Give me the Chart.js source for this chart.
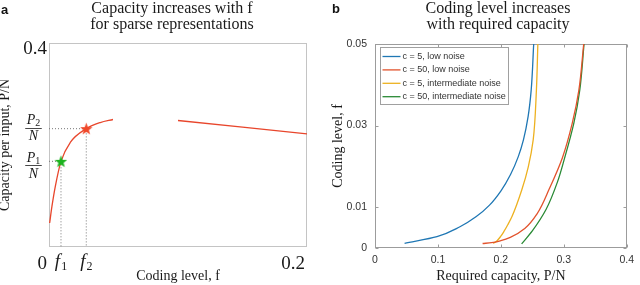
<!DOCTYPE html>
<html>
<head>
<meta charset="utf-8">
<script src="https://cdn.jsdelivr.net/npm/chart.js@4.4.0/dist/chart.umd.min.js"></script>
<style>
html, body { margin: 0; padding: 0; background: #fff; }
#wrap { position: relative; width: 640px; height: 285px; }
.panel { position: absolute; top: 0; width: 320px; height: 285px; }
</style>
</head>
<body>
<div id="wrap">
    <div class="panel" style="left:0"><canvas id="chartA"></canvas></div>
    <div class="panel" style="left:320px"><canvas id="chartB"></canvas></div>
</div>
<script>
// ---- panel a: capacity per input vs coding level ----
const capFLeft = [0.0005, 0.0023, 0.0049, 0.0093, 0.0165, 0.0289, 0.0397, 0.0496];
const capPNLeft = [0.047, 0.080, 0.119, 0.168, 0.205, 0.232, 0.244, 0.250];
const capFRight = [0.1, 0.15, 0.2];
const capPNRight = [0.248, 0.235, 0.222];
const markF = [0.0093, 0.0289];
const markPN = [0.168, 0.232];
const ticksAX = [0, 0.2];
const tickLabelsAX = ['0', '0.2'];
const ticksAY = [0.4];
const tickLabelsAY = ['0.4'];

// ---- panel b: coding level vs required capacity ----
const legendLabels = ['c = 5, low noise', 'c = 50, low noise', 'c = 5, intermediate noise', 'c = 50, intermediate noise'];
const pnLow5 = [0.047, 0.0985, 0.135, 0.161, 0.182, 0.2002, 0.2154, 0.2277, 0.2359, 0.2433, 0.2482, 0.2522];
const fLow5 = [0.00115, 0.0028, 0.0052, 0.0077, 0.0105, 0.014, 0.018, 0.0224, 0.0265, 0.0322, 0.0387, 0.05];
const pnLow50 = [0.171, 0.185, 0.2, 0.215, 0.238, 0.258, 0.277, 0.298, 0.3135, 0.324, 0.3317];
const fLow50 = [0.0011, 0.0013, 0.0018, 0.0026, 0.0048, 0.0085, 0.0145, 0.0222, 0.0306, 0.0387, 0.05];
const pnMid5 = [0.188, 0.194, 0.2, 0.2047, 0.211, 0.2177, 0.2332, 0.2436, 0.2514, 0.2565, 0.2588];
const fMid5 = [0.0011, 0.0018, 0.0029, 0.0040, 0.0057, 0.0077, 0.0142, 0.0199, 0.0265, 0.0387, 0.05];
const pnMid50 = [0.233, 0.25, 0.272, 0.29, 0.3005, 0.316, 0.3254, 0.3322];
const fMid50 = [0.001, 0.0042, 0.0095, 0.0162, 0.0216, 0.0306, 0.0387, 0.05];
const ticksBX = [0, 0.1, 0.2, 0.3, 0.4];
const ticksBY = [0, 0.01, 0.03, 0.05];

const SERIF = '"Liberation Serif", "Times New Roman", serif';
const SANS = '"Liberation Sans", Arial, sans-serif';

const toXY = (xs, ys) => xs.map((x, i) => ({ x: x, y: ys[i] }));

function makeStar(color, size) {
    const c = document.createElement('canvas');
    c.width = size;
    c.height = size;
    const g = c.getContext('2d');
    const r = size / 2, ri = r * 0.42;
    g.beginPath();
    for (let i = 0; i < 10; i++) {
        const rad = i % 2 ? ri : r;
        const ang = -Math.PI / 2 + i * Math.PI / 5;
        g.lineTo(r + rad * Math.cos(ang), r + 0.6 + rad * Math.sin(ang));
    }
    g.closePath();
    g.fillStyle = color;
    g.fill();
    return c;
}

// box around the plot area, optional inward tick marks
const framePlugin = {
    id: 'frame',
    beforeDatasetsDraw(chart, args, opts) {
        const { ctx, chartArea: a, scales: { x, y } } = chart;
        const l = Math.round(a.left) + 0.5, t = Math.round(a.top) + 0.5;
        const r = Math.round(a.right) - 0.5, b = Math.round(a.bottom) - 0.5;
        ctx.save();
        ctx.strokeStyle = opts.color;
        ctx.lineWidth = 1;
        ctx.strokeRect(l, t, r - l, b - t);
        if (opts.tickLength) {
            const n = opts.tickLength;
            ctx.beginPath();
            x.ticks.forEach(tk => {
                const px = Math.round(x.getPixelForValue(tk.value)) + 0.5;
                ctx.moveTo(px, b); ctx.lineTo(px, b - n);
                ctx.moveTo(px, t); ctx.lineTo(px, t + n);
            });
            y.ticks.forEach(tk => {
                const py = Math.round(y.getPixelForValue(tk.value)) + 0.5;
                ctx.moveTo(l, py); ctx.lineTo(l + n, py);
                ctx.moveTo(r, py); ctx.lineTo(r - n, py);
            });
            ctx.stroke();
        }
        ctx.restore();
    }
};

// panel letter and two-line title
const panelTextPlugin = {
    id: 'panelText',
    afterDraw(chart, args, o) {
        const ctx = chart.ctx;
        ctx.save();
        ctx.fillStyle = '#111';
        ctx.textBaseline = 'middle';
        ctx.textAlign = 'left';
        ctx.font = 'bold 13px ' + SANS;
        ctx.fillText(o.letter, o.letterX, o.letterY);
        ctx.font = '16px ' + SERIF;
        ctx.fillStyle = '#1a1a1a';
        ctx.textAlign = 'center';
        o.lines.forEach((t, i) => ctx.fillText(t, o.cx, o.y0 + i * o.dy));
        ctx.restore();
    }
};

// f1, f2 tick labels and P/N fractions on panel a
const markLabelsPlugin = {
    id: 'markLabels',
    afterDraw(chart, args, o) {
        const { ctx, scales: { x, y }, chartArea: a } = chart;
        ctx.save();
        ctx.fillStyle = '#1a1a1a';
        ctx.strokeStyle = '#1a1a1a';
        ctx.textBaseline = 'alphabetic';
        markF.forEach((f, i) => {
            const px = x.getPixelForValue(f);
            const sub = String(i + 1);
            ctx.font = 'italic 19px ' + SERIF;
            const wf = ctx.measureText('f').width;
            ctx.font = '12px ' + SERIF;
            const ws = ctx.measureText(sub).width;
            const x0 = px - (wf + ws + 1) / 2;
            ctx.font = 'italic 19px ' + SERIF;
            ctx.fillText('f', x0, a.bottom + o.fBase);
            ctx.font = '12px ' + SERIF;
            ctx.fillText(sub, x0 + wf + 1, a.bottom + o.fBase + 3);
        });
        markPN.forEach((p, i) => {
            const barY = y.getPixelForValue(p) + o.barShift[i];
            const sub = String(i + 1);
            const cx = o.fracX;
            ctx.font = 'italic 14px ' + SERIF;
            const wp = ctx.measureText('P').width;
            const wn = ctx.measureText('N').width;
            ctx.font = '10px ' + SERIF;
            const ws = ctx.measureText(sub).width;
            const wTop = wp + ws;
            const wBar = Math.max(wTop, wn) + 3;
            ctx.font = 'italic 14px ' + SERIF;
            ctx.fillText('P', cx - wTop / 2, barY - 3.5);
            ctx.fillText('N', cx - wn / 2, barY + 12.5);
            ctx.font = '10px ' + SERIF;
            ctx.fillText(sub, cx - wTop / 2 + wp, barY - 1.5);
            ctx.lineWidth = 0.8;
            ctx.beginPath();
            ctx.moveTo(cx - wBar / 2, Math.round(barY) + 0.5);
            ctx.lineTo(cx + wBar / 2, Math.round(barY) + 0.5);
            ctx.stroke();
        });
        ctx.restore();
    }
};

// boxed legend drawn inside the plot area
const boxLegendPlugin = {
    id: 'boxLegend',
    afterDatasetsDraw(chart, args, o) {
        const { ctx, chartArea: a } = chart;
        const left = Math.round(a.left + o.offsetX) + 0.5;
        const top = Math.round(a.top + o.offsetY) + 0.5;
        ctx.save();
        ctx.fillStyle = '#fff';
        ctx.fillRect(left, top, o.width, o.height);
        ctx.strokeStyle = '#a0a0a0';
        ctx.lineWidth = 1;
        ctx.strokeRect(left, top, o.width, o.height);
        ctx.font = '9px ' + SANS;
        ctx.textBaseline = 'middle';
        ctx.textAlign = 'left';
        chart.data.datasets.forEach((ds, i) => {
            const yy = top + o.firstRow + i * o.rowGap;
            ctx.strokeStyle = ds.borderColor;
            ctx.lineWidth = 1.3;
            ctx.beginPath();
            ctx.moveTo(left + 2, yy);
            ctx.lineTo(left + 20, yy);
            ctx.stroke();
            ctx.fillStyle = '#333';
            ctx.fillText(ds.label, left + 22, yy);
        });
        ctx.restore();
    }
};

// ---------------- panel a ----------------
const guideStyle = { borderColor: '#777', borderWidth: 1, borderDash: [1, 2], pointRadius: 0, tension: 0, order: 2 };
const curveStyle = { borderColor: '#E8462C', borderWidth: 1.3, pointRadius: 0, cubicInterpolationMode: 'monotone', order: 1 };
const starColors = ['#1DB31F', '#F0482A'];

new Chart(document.getElementById('chartA'), {
    type: 'line',
    data: {
        datasets: [
            ...markF.map((f, i) => ({
                data: [{ x: f, y: markPN[i] }],
                showLine: false,
                pointStyle: makeStar(starColors[i], 13),
                pointRadius: 6,
                order: 0
            })),
            { ...curveStyle, data: toXY(capFLeft, capPNLeft) },
            { ...curveStyle, data: toXY(capFRight, capPNRight) },
            ...markF.map((f, i) => ({
                ...guideStyle,
                data: [{ x: 0, y: markPN[i] }, { x: f, y: markPN[i] }, { x: f, y: 0 }]
            }))
        ]
    },
    options: {
        responsive: true,
        maintainAspectRatio: false,
        animation: false,
        layout: { padding: { top: 43, right: 13, left: 0, bottom: 0 } },
        plugins: {
            legend: { display: false },
            tooltip: { enabled: false },
            frame: { color: '#c4c4c4', tickLength: 0 },
            panelText: { letter: 'a', letterX: 1, letterY: 10, lines: ['Capacity increases with f', 'for sparse representations'], cx: 172, y0: 9, dy: 16 },
            markLabels: { fBase: 20, fracX: 33.5, barShift: [4, -1] }
        },
        scales: {
            x: {
                type: 'linear',
                min: 0,
                max: 0.2,
                grid: { display: false, drawTicks: false },
                border: { display: false },
                afterBuildTicks: s => { s.ticks = ticksAX.map(v => ({ value: v })); },
                afterFit: s => { s.height = 38; },
                ticks: {
                    align: 'end',
                    labelOffset: -2,
                    padding: 6,
                    maxRotation: 0,
                    color: '#1a1a1a',
                    font: { family: SERIF, size: 19 },
                    callback: v => tickLabelsAX[ticksAX.indexOf(v)]
                },
                title: {
                    display: true,
                    text: 'Coding level, f',
                    color: '#1a1a1a',
                    font: { family: SERIF, size: 14, lineHeight: 1.2 },
                    padding: { top: 0, bottom: 0 }
                }
            },
            y: {
                type: 'linear',
                min: 0,
                max: 0.4,
                grid: { display: false, drawTicks: false },
                border: { display: false },
                afterBuildTicks: s => { s.ticks = ticksAY.map(v => ({ value: v })); },
                afterFit: s => { s.width = 49; },
                ticks: {
                    padding: 2,
                    labelOffset: 6,
                    color: '#1a1a1a',
                    font: { family: SERIF, size: 19 },
                    callback: v => tickLabelsAY[ticksAY.indexOf(v)]
                },
                title: {
                    display: true,
                    text: 'Capacity per input, P/N',
                    color: '#1a1a1a',
                    font: { family: SERIF, size: 14, lineHeight: 1 },
                    padding: { top: -2, bottom: 0 }
                }
            }
        }
    },
    plugins: [framePlugin, panelTextPlugin, markLabelsPlugin]
});

// ---------------- panel b ----------------
const seriesB = [[pnLow5, fLow5], [pnLow50, fLow50], [pnMid5, fMid5], [pnMid50, fMid50]];
const colorsB = ['#1F77B4', '#E2532D', '#EDB120', '#2A8A35'];

new Chart(document.getElementById('chartB'), {
    type: 'line',
    data: {
        datasets: seriesB.map(([pn, f], i) => ({
            label: legendLabels[i],
            data: toXY(pn, f),
            borderColor: colorsB[i],
            borderWidth: 1.3,
            pointRadius: 0,
            cubicInterpolationMode: 'monotone'
        }))
    },
    options: {
        responsive: true,
        maintainAspectRatio: false,
        animation: false,
        indexAxis: 'y',
        layout: { padding: { top: 44, right: 8, left: 0, bottom: 0 } },
        plugins: {
            legend: { display: false },
            tooltip: { enabled: false },
            frame: { color: '#9c9c9c', tickLength: 3 },
            panelText: { letter: 'b', letterX: 12, letterY: 9, lines: ['Coding level increases', 'with required capacity'], cx: 178, y0: 9, dy: 16 },
            boxLegend: { offsetX: 5, offsetY: 3, width: 128, height: 57, firstRow: 9, rowGap: 13.4 }
        },
        scales: {
            x: {
                type: 'linear',
                min: 0,
                max: 0.4,
                grid: { display: false, drawTicks: false },
                border: { display: false },
                afterBuildTicks: s => { s.ticks = ticksBX.map(v => ({ value: v })); },
                afterFit: s => { s.height = 37; },
                ticks: {
                    padding: 6,
                    maxRotation: 0,
                    color: '#333',
                    font: { family: SANS, size: 10.5 },
                    callback: v => String(v)
                },
                title: {
                    display: true,
                    text: 'Required capacity, P/N',
                    color: '#1a1a1a',
                    font: { family: SERIF, size: 14, lineHeight: 1.2 },
                    padding: { top: 0, bottom: 0 }
                }
            },
            y: {
                type: 'linear',
                min: 0,
                max: 0.05,
                grid: { display: false, drawTicks: false },
                border: { display: false },
                afterBuildTicks: s => { s.ticks = ticksBY.map(v => ({ value: v })); },
                afterFit: s => { s.width = 55; },
                ticks: {
                    padding: 8,
                    color: '#333',
                    font: { family: SANS, size: 10.5 },
                    callback: v => String(v)
                },
                title: {
                    display: true,
                    text: 'Coding level, f',
                    color: '#1a1a1a',
                    font: { family: SERIF, size: 14, lineHeight: 1 },
                    padding: { top: 11, bottom: 0 }
                }
            }
        }
    },
    plugins: [framePlugin, panelTextPlugin, boxLegendPlugin]
});
</script>
</body>
</html>
